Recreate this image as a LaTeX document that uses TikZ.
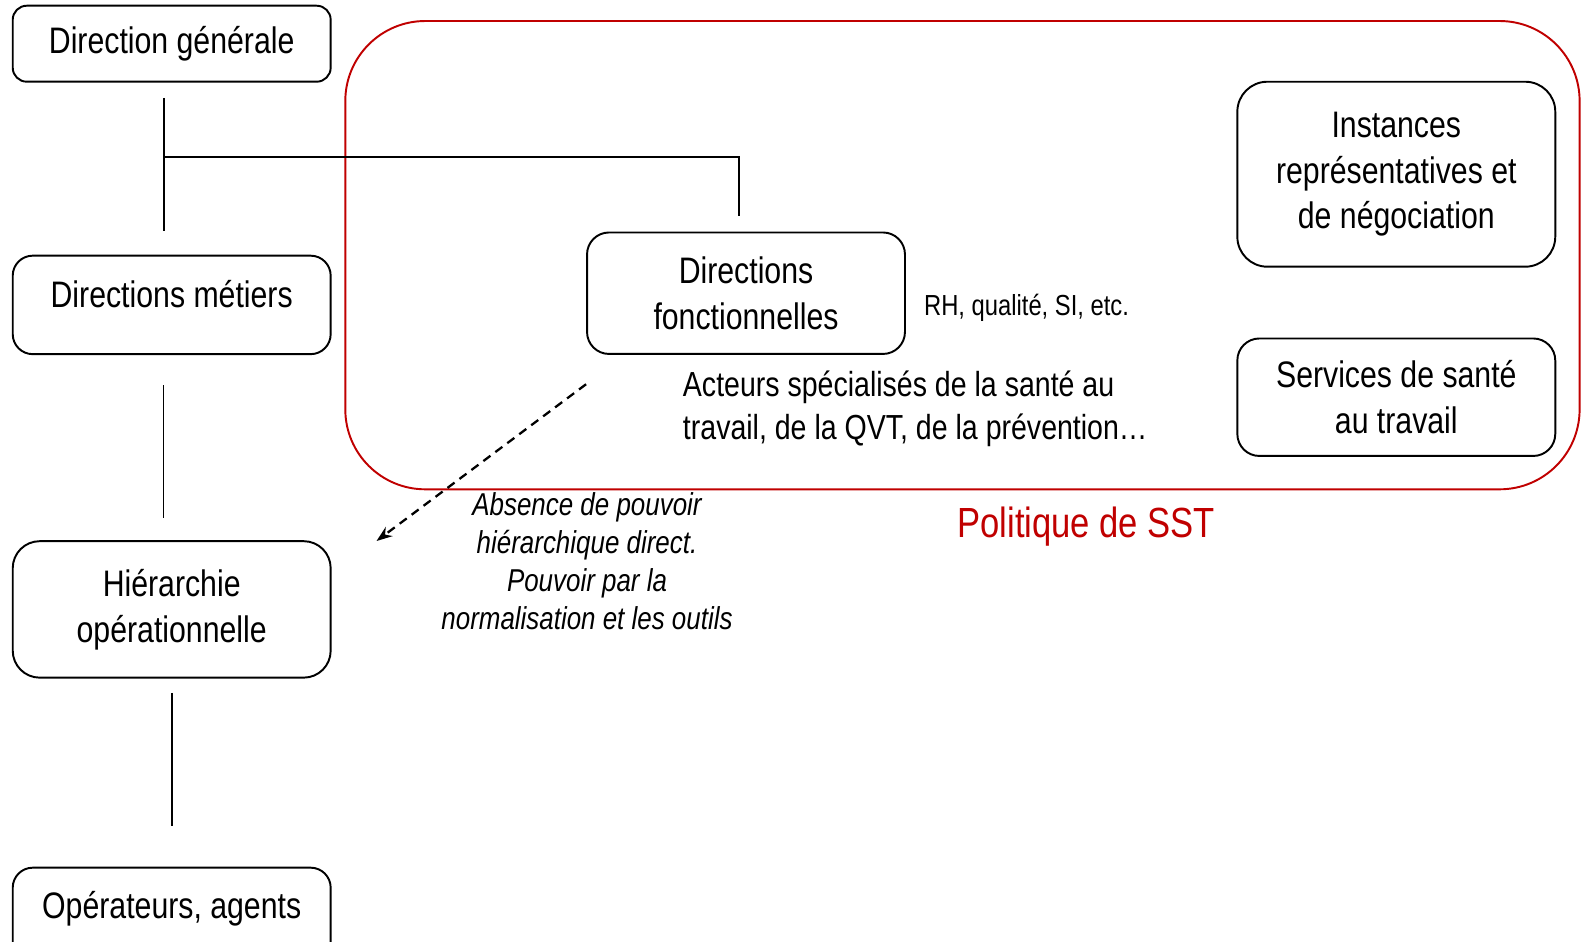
\documentclass[tikz,border=0pt]{standalone}
\usepackage{fontspec}
\setmainfont[FakeStretch=0.82]{Liberation Sans}
\usetikzlibrary{arrows.meta}
\definecolor{sstred}{RGB}{192,0,0}
\newcommand{\boxline}{1.1pt}
\newcommand{\boxwd}{6.36cm}

\begin{document}
\begin{tikzpicture}[x=.02cm,y=-.02cm,
    orgbox/.style={draw, line width=\boxline, rounded corners=#1, align=center,
      minimum width=\boxwd, inner sep=0pt, font=\fontsize{21}{26}\selectfont},
    link/.style={line width=1pt}]
        \clip (0,0) rectangle (1581,941);
        % hierarchy column
        \node (dg) at (171.7,43.7) [orgbox=.28cm, minimum height=1.52cm] {Direction générale};
        \node (dm) at (171.7,304.9) [orgbox=.4cm, minimum height=1.97cm, text depth=12pt] {Directions métiers};
        \node (ho) at (171.7,609.4) [orgbox=.54cm, minimum height=2.73cm] {Hiérarchie\\opérationnelle};
        \node (op) at (171.7,916.9) [orgbox=.4cm, minimum height=1.97cm, text depth=14pt] {Opérateurs, agents};
        % SST policy frame
        \draw[sstred, line width=\boxline, rounded corners=1.6cm] (345.3,21) rectangle (1579.6,489.3);
        \node (df) at (746,293.2) [orgbox=.44cm, minimum height=2.43cm] {Directions\\fonctionnelles};
        \node (irp) at (1396.3,174.2) [orgbox=.6cm, minimum height=3.7cm] {Instances\\représentatives et\\de négociation};
        \node (sst) at (1396.3,397.2) [orgbox=.44cm, minimum height=2.35cm] {Services de santé\\au travail};
        \node (rh) at (923.8,315) [anchor=base west, inner sep=0pt, font=\fontsize{16.5}{20}\selectfont] {RH, qualité, SI, etc.};
        \node (acteurs) at (682.6,409) [anchor=west, inner sep=0pt, align=left, font=\fontsize{19.8}{24.2}\selectfont]
          {Acteurs spécialisés de la santé au\\travail, de la QVT, de la prévention…};
        \node (pol) at (1086.3,526.5) [inner sep=0pt, text=sstred, font=\fontsize{24}{28}\selectfont] {Politique de SST};
        \node (pouvoir) at (587,561) [inner sep=0pt, align=center, font=\fontsize{18}{21.6}\selectfont\itshape]
          {Absence de pouvoir\\hiérarchique direct.\\Pouvoir par la\\normalisation et les outils};

        \coordinate (branch) at (163.7,157);
        \coordinate (tipend) at (376.5,541);
        \draw[link] ([shift={(-8,15.3)}]dg.south) to ([shift={(-8,-23.7)}]dm.north);
        \draw[link] (branch) -| ([shift={(-7.3,-15.6)}]df.north);
        \draw[link] ([shift={(-8.3,30)}]dm.south) to ([shift={(-8.3,-22)}]ho.north);
        \draw[link] ([shift={(0,14.3)}]ho.south) to ([shift={(0,-40.4)}]op.north);
        \draw[link, line width=1.3pt, dash pattern=on 5pt off 3.5pt, -{Stealth[length=9pt,width=6.5pt]}]
          ([shift={(0,29.3)}]df.south west) to (tipend);
          \end{tikzpicture}
\end{document}
